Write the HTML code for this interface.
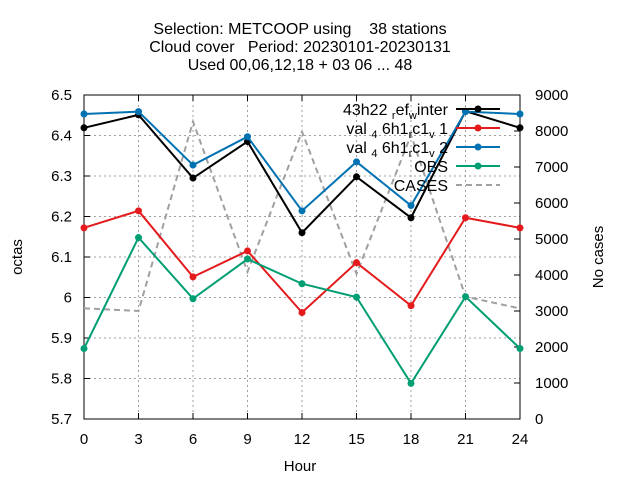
<!DOCTYPE html>
<html><head><meta charset="utf-8"><style>
body{margin:0;background:#fff}
svg{display:block;font-family:"Liberation Sans",sans-serif}
</style></head><body>
<svg id="chart" width="640" height="480" xmlns="http://www.w3.org/2000/svg">
<g font-size="16" text-anchor="middle" fill="#000">
<text x="300" y="34" xml:space="preserve">Selection: METCOOP using    38 stations</text>
<text x="300" y="52" xml:space="preserve">Cloud cover   Period: 20230101-20230131</text>
<text x="300" y="70">Used  00,06,12,18 + 03 06 ... 48</text>
</g>
<g id="grid"></g>
<g id="axes"></g>
<g id="series"></g>
<g id="legend"></g>
<text x="300" y="471" font-size="15" text-anchor="middle">Hour</text>
<text transform="translate(22,257) rotate(-90)" font-size="15" text-anchor="middle">octas</text>
<text transform="translate(603,257) rotate(-90)" font-size="15" text-anchor="middle">No cases</text>
</svg>
<script>
const hours=[0,3,6,9,12,15,18,21,24];
const ref=[6.419,6.451,6.295,6.385,6.160,6.298,6.197,6.460,6.419];
const v1=[6.172,6.214,6.051,6.115,5.963,6.086,5.980,6.197,6.172];
const v2=[6.453,6.459,6.327,6.397,6.214,6.335,6.227,6.459,6.453];
const obs=[5.874,6.148,5.997,6.095,6.034,6.001,5.788,6.002,5.874];
const cases=[3075,3000,8260,4090,7980,4030,7890,3400,3070];
const yTicks=[5.7,5.8,5.9,6,6.1,6.2,6.3,6.4,6.5];
const yTickLabels=["5.7","5.8","5.9","6","6.1","6.2","6.3","6.4","6.5"];
const y2Ticks=[0,1000,2000,3000,4000,5000,6000,7000,8000,9000];
const L=84,R=520,T=95,B=419;
const NS="http://www.w3.org/2000/svg";
const X=h=>L+(h-0)/24*(R-L);
const Y=v=>B-(v-5.7)/0.8*(B-T);
const Y2=v=>B-v/9000*(B-T);
function mk(tag,at,parent){const e=document.createElementNS(NS,tag);for(const k in at)e.setAttribute(k,at[k]);parent.appendChild(e);return e;}
const grid=document.getElementById('grid'),axes=document.getElementById('axes'),ser=document.getElementById('series'),leg=document.getElementById('legend');
hours.forEach(h=>{
 if(h>0&&h<24){const g=mk('line',{x1:X(h),x2:X(h),y1:T,y2:B,stroke:'#a0a0a0','stroke-dasharray':'2,3','stroke-width':1},grid);
 
 }
 const t=mk('text',{x:X(h),y:444,'font-size':15,'text-anchor':'middle'},axes);t.textContent=h;
 
 
 mk('line',{x1:X(h),x2:X(h),y1:B,y2:B-6,stroke:'#000'},axes);mk('line',{x1:X(h),x2:X(h),y1:T,y2:T+6,stroke:'#000'},axes);
});
yTicks.forEach((v,i)=>{
 if(i>0&&i<yTicks.length-1){const g=mk('line',{x1:L,x2:R,y1:Y(v),y2:Y(v),stroke:'#a0a0a0','stroke-dasharray':'2,3','stroke-width':1},grid);
 
 }
 mk('line',{x1:L,x2:L+6,y1:Y(v),y2:Y(v),stroke:'#000'},axes);
 const t=mk('text',{x:L-12,y:Y(v)+5,'font-size':15,'text-anchor':'end'},axes);t.textContent=yTickLabels[i];
 
 
});
y2Ticks.forEach(v=>{
 mk('line',{x1:R,x2:R-6,y1:Y2(v),y2:Y2(v),stroke:'#000'},axes);
 const t=mk('text',{x:R+15,y:Y2(v)+5,'font-size':15,'text-anchor':'start'},axes);t.textContent=v;
 
 
});
const frame=mk('rect',{x:L,y:T,width:R-L,height:B-T,fill:'none',stroke:'#000'},axes);


const cp=mk('polyline',{points:hours.map((h,i)=>X(h)+','+Y2(cases[i])).join(' '),fill:'none',stroke:'#a0a0a0','stroke-width':2,'stroke-dasharray':'6,4'},ser);


const S=[[ref,'#000000','ref-winter-line'],[v1,'#e41a1c','val-v1-line'],[v2,'#0072b2','val-v2-line'],[obs,'#009e73','obs-line']];
S.forEach(([d,c,n])=>{
 const p=mk('polyline',{points:hours.map((h,i)=>X(h)+','+Y(d[i])).join(' '),fill:'none',stroke:c,'stroke-width':2},ser);
 
 
 hours.forEach((h,i)=>{const m=mk('circle',{cx:X(h),cy:Y(d[i]),r:3.5,fill:c},ser);
 
 });
});
const colors=['#000','#e41a1c','#0072b2','#009e73','#a0a0a0'];
const ly=[109,128,147,166,185];
colors.forEach((c,i)=>{
 const y=ly[i];
 const t=mk('text',{x:448,y:y+6,'font-size':16,'text-anchor':'end'},leg);
 
 
 if(i===0){t.innerHTML='43h22 <tspan font-size="11" dy="4">r</tspan><tspan dy="-4">ef</tspan><tspan font-size="11" dy="4">w</tspan><tspan dy="-4">inter</tspan>';}
 else if(i<3){t.innerHTML='val <tspan font-size="11" dy="4">4</tspan><tspan dy="-4"> 6h1</tspan><tspan font-size="11" dy="4">r</tspan><tspan dy="-4">c1</tspan><tspan font-size="11" dy="4">v</tspan><tspan dy="-4"> '+i+'</tspan>';}
 else t.textContent=(i===3?'OBS':'CASES');
 const ln=mk('line',{x1:456,x2:500,y1:y,y2:y,stroke:c,'stroke-width':2},leg);
 if(i===4)ln.setAttribute('stroke-dasharray','6,4');
 
 
 if(i<4){mk('circle',{cx:478,cy:y,r:3.5,fill:c},leg);}
});
</script>
</body></html>
